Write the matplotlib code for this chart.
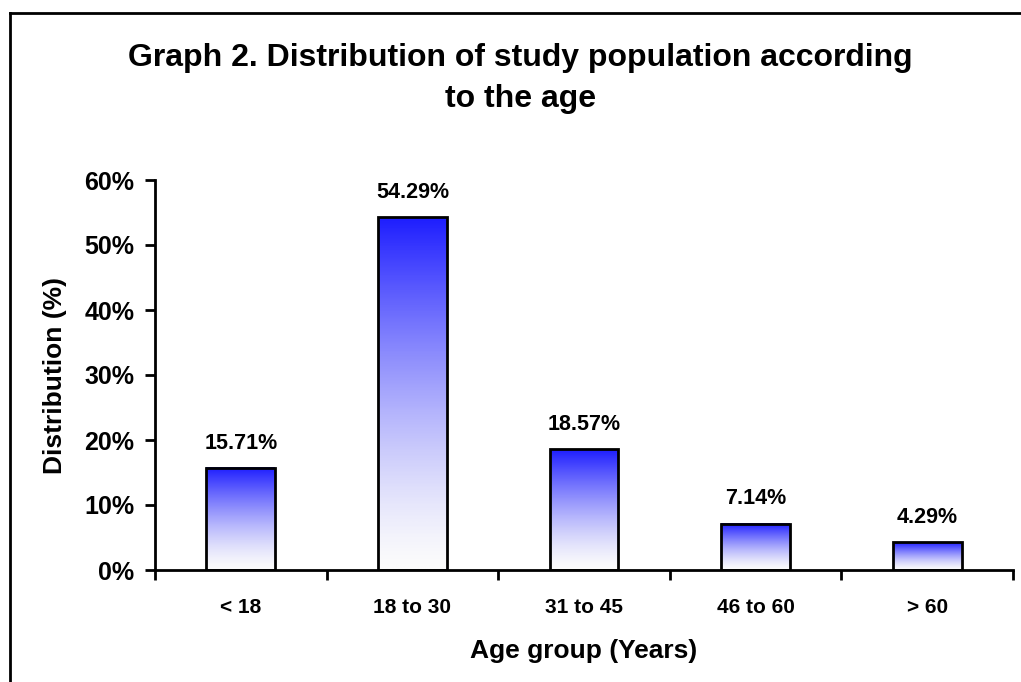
import matplotlib.pyplot as plt
import numpy as np
from matplotlib.colors import LinearSegmentedColormap
from matplotlib.lines import Line2D

plt.rcParams['font.family'] = ['Liberation Sans', 'DejaVu Sans']
plt.rcParams['font.weight'] = 'bold'

# data
age_groups = ['< 18', '18 to 30', '31 to 45', '46 to 60', '> 60']
distribution = [15.71, 54.29, 18.57, 7.14, 4.29]
y_ticks = [0, 10, 20, 30, 40, 50, 60]

fig = plt.figure(figsize=(10.21, 6.82), dpi=100)
ax = fig.add_axes([155/1021, 1 - 570/682, 858/1021, 390/682])

# blue -> white gradient, top to bottom
cmap = LinearSegmentedColormap.from_list('bw', ['#fbfbfb', '#1e1eff'])
grad = (np.linspace(0, 1, 256) ** 1.4).reshape(-1, 1)

x = np.arange(len(age_groups))
w = 0.4
for xi, v in zip(x, distribution):
    ax.imshow(grad, cmap=cmap, vmin=0, vmax=1, origin='lower', aspect='auto',
              extent=[xi - w/2, xi + w/2, 0, v], zorder=2)
bars = ax.bar(x, distribution, w, facecolor='none', edgecolor='black',
              linewidth=2, zorder=3)

for xi, v in zip(x, distribution):
    ax.text(xi, v + 2.2, f'{v:.2f}%', ha='center', va='bottom',
            fontsize=15.5, fontweight='bold')

ax.set_xlim(-0.5, len(age_groups) - 0.5)
ax.set_ylim(0, 60)
ax.set_yticks(y_ticks)
ax.set_yticklabels([f'{t}%' for t in y_ticks], fontsize=18, fontweight='bold')
ax.set_xticks(x)
ax.set_xticklabels(age_groups, fontsize=15, fontweight='bold')
ax.set_xticks(np.arange(-0.5, len(age_groups)), minor=True)
ax.tick_params(axis='x', which='major', length=0, pad=20)
ax.tick_params(axis='x', which='minor', length=7, width=2, direction='out')
ax.tick_params(axis='y', length=7, width=2, direction='out', pad=8)

for s in ['top', 'right']:
    ax.spines[s].set_visible(False)
for s in ['left', 'bottom']:
    ax.spines[s].set_linewidth(2)

ax.set_xlabel('Age group (Years)', fontsize=19, fontweight='bold', labelpad=16)
ax.set_ylabel('Distribution (%)', fontsize=19, fontweight='bold', labelpad=12)

fig.text(0.51, 1 - 66/682, 'Graph 2. Distribution of study population according',
         ha='center', va='baseline', fontsize=23, fontweight='bold')
fig.text(0.51, 1 - 107/682, 'to the age',
         ha='center', va='baseline', fontsize=23, fontweight='bold')

# outer frame (cut at right and bottom)
fig.add_artist(Line2D([10/1021, 10/1021], [0, 1 - 13/682], color='black', lw=2,
                      transform=fig.transFigure))
fig.add_artist(Line2D([10/1021, 1], [1 - 13/682, 1 - 13/682], color='black', lw=2,
                      transform=fig.transFigure))

fig.savefig('out.png', dpi=100)
